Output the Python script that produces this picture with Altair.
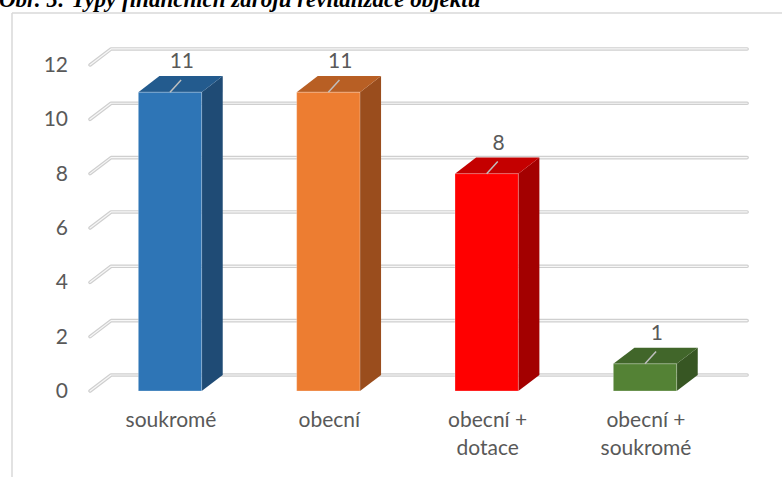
import altair as alt
import pandas as pd

# ---- data -------------------------------------------------------------
categories = ["soukromé", "obecní", "obecní + dotace", "obecní + soukromé"]
counts = [11, 11, 8, 1]
front_colors = ["#2e75b6", "#ed7d31", "#ff0000", "#548235"]
top_colors = ["#235b8e", "#b85f24", "#c40000", "#41662a"]
side_colors = ["#1f4b75", "#9a4d1d", "#a30000", "#375623"]
tick_values = [0, 2, 4, 6, 8, 10, 12]

title_text = "Obr. 5: Typy finančních zdrojů revitalizace objektu"

# ---- geometry of the pseudo-3D view (in data units) -------------------
W, H = 782, 477
HALF = 0.2            # half bar width, in category units
DEPTH_X = 0.133       # receding depth, category units
DEPTH_Y = 0.59        # receding depth, value units
FLOOR_LEFT = -0.505   # left front corner of the floor
WALL_RIGHT = 3.645    # right end of the back wall

x_scale = alt.Scale(domain=[-1.0737, 3.8653], nice=False, zero=False)
y_scale = alt.Scale(domain=[-3.165, 14.391], nice=False, zero=False)

TEXT = "#595959"
FONT = "Lato"

# front faces
front = pd.DataFrame({
    "x0": [i - HALF for i in range(len(counts))],
    "x1": [i + HALF for i in range(len(counts))],
    "y0": [0] * len(counts),
    "y1": counts,
    "c": front_colors,
})

# top and side faces as areas (lower/upper outline over x)
top_rows, side_rows = [], []
for i, v in enumerate(counts):
    x0, x1 = i - HALF, i + HALF
    for x, lo, hi in [(x0, v, v), (x0 + DEPTH_X, v, v + DEPTH_Y),
                      (x1, v, v + DEPTH_Y), (x1 + DEPTH_X, v + DEPTH_Y, v + DEPTH_Y)]:
        top_rows.append({"bar": i, "x": x, "lo": lo, "hi": hi, "c": top_colors[i]})
    for x, lo, hi in [(x1, 0, v), (x1 + DEPTH_X, DEPTH_Y, v + DEPTH_Y)]:
        side_rows.append({"bar": i, "x": x, "lo": lo, "hi": hi, "c": side_colors[i]})
top = pd.DataFrame(top_rows)
side = pd.DataFrame(side_rows)

# grid lines: diagonal on the left side wall, then along the back wall
grid_rows = []
for t in tick_values:
    grid_rows += [
        {"t": t, "k": 0, "x": FLOOR_LEFT, "y": t},
        {"t": t, "k": 1, "x": FLOOR_LEFT + DEPTH_X, "y": t + DEPTH_Y},
        {"t": t, "k": 2, "x": WALL_RIGHT, "y": t + DEPTH_Y},
    ]
grid = pd.DataFrame(grid_rows)

ticks = pd.DataFrame({"t": tick_values, "x": [FLOOR_LEFT] * len(tick_values),
                      "label": [str(t) for t in tick_values]})

labels = pd.DataFrame({
    "i": list(range(len(counts))),
    "v": counts,
    "vtop": [v + DEPTH_Y for v in counts],
    "lx": [i + 0.075 for i in range(len(counts))],
    "lead_x2": [i + 0.07 for i in range(len(counts))],
    "lead_y2": [v + 0.45 for v in counts],
    "txt": [str(v) for v in counts],
})

cats = pd.DataFrame({
    "i": list(range(len(categories))),
    "y": [0] * len(categories),
    "name": [c.replace(" + ", " +\n") for c in categories],
})

X = lambda f: alt.X(f, type="quantitative", scale=x_scale, axis=None)
Y = lambda f: alt.Y(f, type="quantitative", scale=y_scale, axis=None, stack=None)

# ---- layers -----------------------------------------------------------
border = alt.Chart(pd.DataFrame({"a": [0]})).mark_rule(
    color="#d9d9d9", strokeWidth=1.5
)
border_top = border.encode(x=alt.value(12), x2=alt.value(W), y=alt.value(13))
border_left = border.encode(x=alt.value(12), y=alt.value(13), y2=alt.value(H))

grid_outer = alt.Chart(grid).mark_line(
    color="#cfcfcf", strokeWidth=3.6, strokeCap="round", strokeJoin="round"
).encode(x=X("x"), y=Y("y"), detail="t:N", order="k:Q")
grid_inner = alt.Chart(grid).mark_line(
    color="#f7f7f7", strokeWidth=1.2, strokeCap="round", strokeJoin="round"
).encode(x=X("x"), y=Y("y"), detail="t:N", order="k:Q")

tick_text = alt.Chart(ticks).mark_text(
    align="right", baseline="middle", dx=-22, dy=1, fontSize=21, font=FONT, color=TEXT
).encode(x=X("x"), y=Y("t"), text="label:N")

side_faces = alt.Chart(side).mark_area(interpolate="linear").encode(
    x=X("x"), y=Y("lo"), y2="hi", detail="bar:N",
    color=alt.Color("c:N", scale=None),
)
top_faces = alt.Chart(top).mark_area(interpolate="linear").encode(
    x=X("x"), y=Y("lo"), y2="hi", detail="bar:N",
    color=alt.Color("c:N", scale=None),
)
front_faces = alt.Chart(front).mark_rect(
    stroke="#ffffff", strokeOpacity=0.35, strokeWidth=0.8
).encode(
    x=X("x0"), x2="x1", y=Y("y0"), y2="y1",
    color=alt.Color("c:N", scale=None),
)

leaders = alt.Chart(labels).mark_rule(color="#bfbfbf", strokeWidth=1.5).encode(
    x=X("i"), y=Y("v"), x2="lead_x2", y2="lead_y2"
)
value_text = alt.Chart(labels).mark_text(
    baseline="middle", dy=-14, fontSize=21, font=FONT, color=TEXT
).encode(x=X("lx"), y=Y("vtop"), text="txt:N")

cat_text = alt.Chart(cats).mark_text(
    baseline="top", align="center", dx=1, dy=19, lineBreak="\n", lineHeight=28,
    fontSize=21, font=FONT, color=TEXT
).encode(x=X("i"), y=Y("y"), text="name:N")

title = alt.Chart(pd.DataFrame({"s": [title_text]})).mark_text(
    align="left", baseline="alphabetic", fontSize=23, fontWeight="bold",
    fontStyle="italic", font="Liberation Serif", color="#000000"
).encode(x=alt.value(-1), y=alt.value(7), text="s:N")

chart = alt.layer(
    border_top, border_left, grid_outer, grid_inner, tick_text,
    side_faces, top_faces, front_faces, leaders, value_text, cat_text, title,
).properties(
    width=W, height=H, autosize=alt.AutoSizeParams(type="none"), padding=0,
    background="#ffffff",
).configure_view(stroke=None)

chart.save("out.html", embed_options={"renderer": "svg", "actions": False})
